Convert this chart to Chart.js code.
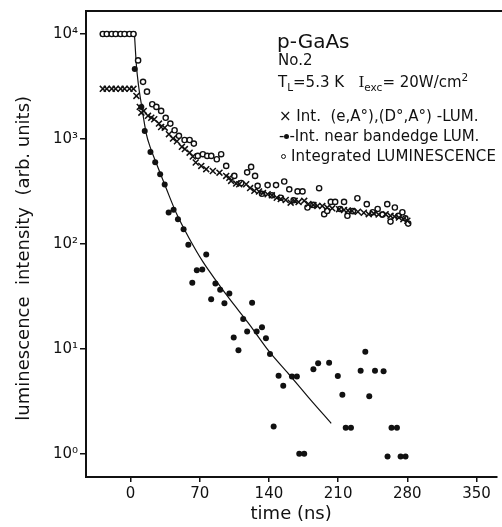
<!DOCTYPE html>
<html>
<head>
<meta charset="utf-8">
<script src="https://cdn.jsdelivr.net/npm/chart.js@4.4.1/dist/chart.umd.min.js"></script>
<style>
    html, body { margin: 0; background: #fff; overflow: hidden; }
    #wrap { position: relative; width: 502px; height: 527px; overflow: hidden; }
    .note { position: absolute; font-family: "DejaVu Sans", sans-serif; color: #111; white-space: nowrap; line-height: 1; }
    .note sub, .note sup { font-size: 70%; line-height: 0; }
    .dot { display: inline-block; width: 5px; height: 5px; border-radius: 50%; vertical-align: middle; }
</style>
</head>
<body>
<div id="wrap">
    <canvas id="decayChart" width="502" height="527"></canvas>
    <div class="note" style="left:277px; top:31px; font-size:20px;">p-GaAs</div>
    <div class="note" style="left:278px; top:53px; font-size:15px;">No.2</div>
    <div class="note" style="left:278px; top:75px; font-size:15px;">T<sub>L</sub>=5.3 K&nbsp;&nbsp;&nbsp;<span style="font-family:'DejaVu Serif'">I</span><sub>exc</sub>= 20W/cm<sup>2</sup></div>
    <div class="note" style="left:279px; top:109px; font-size:15px;">× Int.&nbsp; (e,A°),(D°,A°) -LUM.</div>
    <div class="note" style="left:279px; top:129px; font-size:15px;">-<span class="dot" style="background:#111"></span>-Int. near bandedge LUM.</div>
    <div class="note" style="left:281px; top:149px; font-size:15px; letter-spacing:0.2px;"><span class="dot" style="border:1.3px solid #111; width:3px; height:3px"></span> Integrated LUMINESCENCE</div>
</div>
<script>
// p-GaAs luminescence decay, log intensity vs time

const xTicks = [0, 70, 140, 210, 280, 350];
const yTicks = [1, 10, 100, 1000, 10000];
const SUP = { 0: '⁰', 1: '¹', 2: '²', 3: '³', 4: '⁴' };

// integrated luminescence (open circles)
const integTime = [-28, -24, -19, -15, -10, -6, -1, 3,
    7.7, 12.7, 16.7, 22, 26.2, 31, 35.6, 40.3, 44.6, 49,
    54.7, 59.8, 64.1, 68.1, 73.2, 77.6, 81.7, 87.3, 91.7, 96.8,
    105, 112, 118, 122, 126, 128.6, 133, 138.7, 143, 147.2,
    152, 155.5, 160.6, 165, 169, 174, 179, 185, 190.8, 195.9,
    199, 202.6, 207, 212, 216, 219.4, 225, 229.5, 239, 245,
    250, 255, 259.7, 263, 267.4, 271, 275, 278, 280.9];
const integVals = [10000, 10000, 10000, 10000, 10000, 10000, 10000, 10000,
    5600, 3500, 2820, 2140, 2020, 1850, 1590, 1400, 1210, 1070,
    977, 977, 902, 689, 715, 689, 689, 640, 715, 553,
    444, 380, 480, 541, 444, 357, 300, 363, 290, 363,
    275, 393, 331, 260, 316, 316, 222, 235, 339, 192,
    206, 251, 251, 215, 251, 185, 205, 272, 239, 200,
    215, 190, 239, 163, 222, 185, 200, 175, 156];

// (e,A0),(D0,A0) luminescence (crosses)
const eaTime = [-28, -24, -19, -15, -10, -6, -1, 3,
    6, 9.4, 11, 13.4, 17.7, 21, 24, 28.8, 31, 34.6,
    38.9, 43, 47, 52, 55, 59.8, 63, 66, 71.6, 76.6,
    83.3, 90, 96.8, 100, 101.8, 106.9, 110, 117, 121, 125.3,
    130, 134, 138.7, 143, 148, 152, 157, 162, 166, 170,
    175.7, 180, 185, 189, 194, 199, 204, 211, 216, 220,
    224, 230, 236, 241, 246, 251, 258, 263, 267, 271.5,
    276, 280];
const eaVals = [3000, 3000, 3000, 3000, 3000, 3000, 3000, 3000,
    2570, 2020, 1780, 1850, 1660, 1590, 1540, 1400, 1300, 1280,
    1110, 1007, 950, 840, 800, 740, 680, 596, 553, 515,
    495, 477, 444, 427, 398, 375, 370, 370, 340, 320,
    315, 305, 297, 290, 275, 267, 262, 247, 257, 250,
    257, 240, 235, 230, 230, 222, 218, 214, 210, 208,
    206, 202, 198, 192, 195, 190, 192, 185, 182, 178,
    172, 166];

// near bandedge luminescence (filled dots)
const edgeTime = [-28, -24, -19, -15, -10, -6, -1, 3,
    4.3, 11, 14.4, 20.2, 25, 30, 34.6, 38.6, 43.6, 48,
    53.7, 58.5, 62.5, 67.1, 72.6, 76.6, 81.6, 85.9, 90.7, 95,
    100, 104.4, 109.2, 114, 118, 123, 127.6, 133, 137, 141.1,
    144.8, 149.8, 154.5, 163.3, 168.3, 170.7, 175.7, 185, 189.8, 200.9,
    209.7, 214.3, 217.7, 223, 232.8, 237.5, 241.5, 247.3, 256, 260,
    264, 269.5, 273.2, 278.2];
const edgeVals = [10000, 10000, 10000, 10000, 10000, 10000, 10000, 10000,
    4650, 2020, 1190, 750, 600, 460, 368, 199, 211, 172,
    138, 98, 42.7, 56, 57, 79, 29.7, 42, 36.5, 27.2,
    33.6, 12.8, 9.7, 19.2, 14.6, 27.5, 14.6, 16, 12.6, 8.9,
    1.82, 5.53, 4.45, 5.45, 5.45, 1.0, 1.0, 6.4, 7.3, 7.36,
    5.5, 3.65, 1.77, 1.77, 6.16, 9.35, 3.52, 6.16, 6.1, 0.94,
    1.77, 1.77, 0.94, 0.94];

// fitted decay curve through the bandedge points
const fitTime = [4, 6, 8, 11, 16, 20, 26, 36, 47, 60, 73, 88, 100, 120, 140, 160, 180, 203];
const fitVals = [10000, 5000, 3300, 2140, 1120, 830, 590, 340, 190, 110, 68, 42.7, 30, 17.2, 9.5, 5.75, 3.45, 1.95];

const zip = (xs, ys) => xs.map((x, i) => ({ x: x, y: ys[i] }));

const FONT = 'DejaVu Sans';
const INK = '#111';

// top frame bar running off the right edge like the scan; the right side stays open
const topFrame = {
    id: 'topFrame',
    afterDraw(chart) {
        const { ctx, chartArea } = chart;
        ctx.save();
        ctx.fillStyle = '#fff';
        ctx.fillRect(chartArea.right - 3, chartArea.top + 1, chart.width - chartArea.right + 3, chartArea.bottom - chartArea.top - 2);
        ctx.fillStyle = INK;
        ctx.fillRect(chartArea.left - 1, chartArea.top - 1, chart.width - chartArea.left + 1, 2);
        ctx.restore();
    }
};

new Chart(document.getElementById('decayChart'), {
    type: 'scatter',
    data: {
        datasets: [
            {
                label: 'Int. (e,A°),(D°,A°) -LUM.',
                data: zip(eaTime, eaVals),
                pointStyle: 'crossRot',
                pointRadius: 4.2,
                borderColor: INK,
                borderWidth: 1.5,
                order: 1,
            },
            {
                label: 'Integrated LUMINESCENCE',
                data: zip(integTime, integVals),
                pointStyle: 'circle',
                pointRadius: 2.6,
                borderColor: INK,
                backgroundColor: '#fff',
                borderWidth: 1.4,
                order: 2,
            },
            {
                label: 'Int. near bandedge LUM.',
                data: zip(edgeTime, edgeVals),
                pointStyle: 'circle',
                pointRadius: 3,
                borderColor: INK,
                backgroundColor: INK,
                borderWidth: 0,
                order: 3,
            },
            {
                label: 'fit',
                data: zip(fitTime, fitVals),
                showLine: true,
                cubicInterpolationMode: 'monotone',
                pointRadius: 0,
                borderColor: INK,
                borderWidth: 1.2,
                order: 4,
            },
        ]
    },
    options: {
        responsive: false,
        animation: false,
        layout: { padding: { top: 10, right: 0, left: 0, bottom: 0 } },
        plugins: {
            legend: { display: false },
            tooltip: { enabled: false },
        },
        scales: {
            x: {
                type: 'linear',
                min: -45,
                max: 370,
                afterBuildTicks: s => { s.ticks = xTicks.map(v => ({ value: v })); },
                afterFit: s => { s.height = 50; },
                grid: { drawOnChartArea: false, drawTicks: true, tickLength: 5, color: INK, lineWidth: 1.5 },
                border: { color: INK, width: 2 },
                ticks: { color: INK, padding: 3, font: { family: FONT, size: 15 } },
                title: {
                    display: true, text: 'time (ns)', color: INK,
                    font: { family: FONT, size: 18 }, padding: { top: 0, bottom: 2 }
                }
            },
            y: {
                type: 'logarithmic',
                min: 0.604,
                max: 16560,
                afterBuildTicks: s => { s.ticks = yTicks.map(v => ({ value: v })); },
                afterFit: s => { s.width = 86; },
                grid: { drawOnChartArea: false, drawTicks: true, tickLength: 6, color: INK, lineWidth: 1.5 },
                border: { color: INK, width: 2 },
                ticks: {
                    color: INK, padding: 2, font: { family: FONT, size: 15 },
                    callback: v => '10' + SUP[Math.round(Math.log10(v))]
                },
                title: {
                    display: true, text: 'luminescence  intensity  (arb. units)     ', color: INK,
                    font: { family: FONT, size: 18 }, padding: { top: 14, bottom: 0 }
                }
            }
        }
    },
    plugins: [topFrame]
});
</script>
</body>
</html>
